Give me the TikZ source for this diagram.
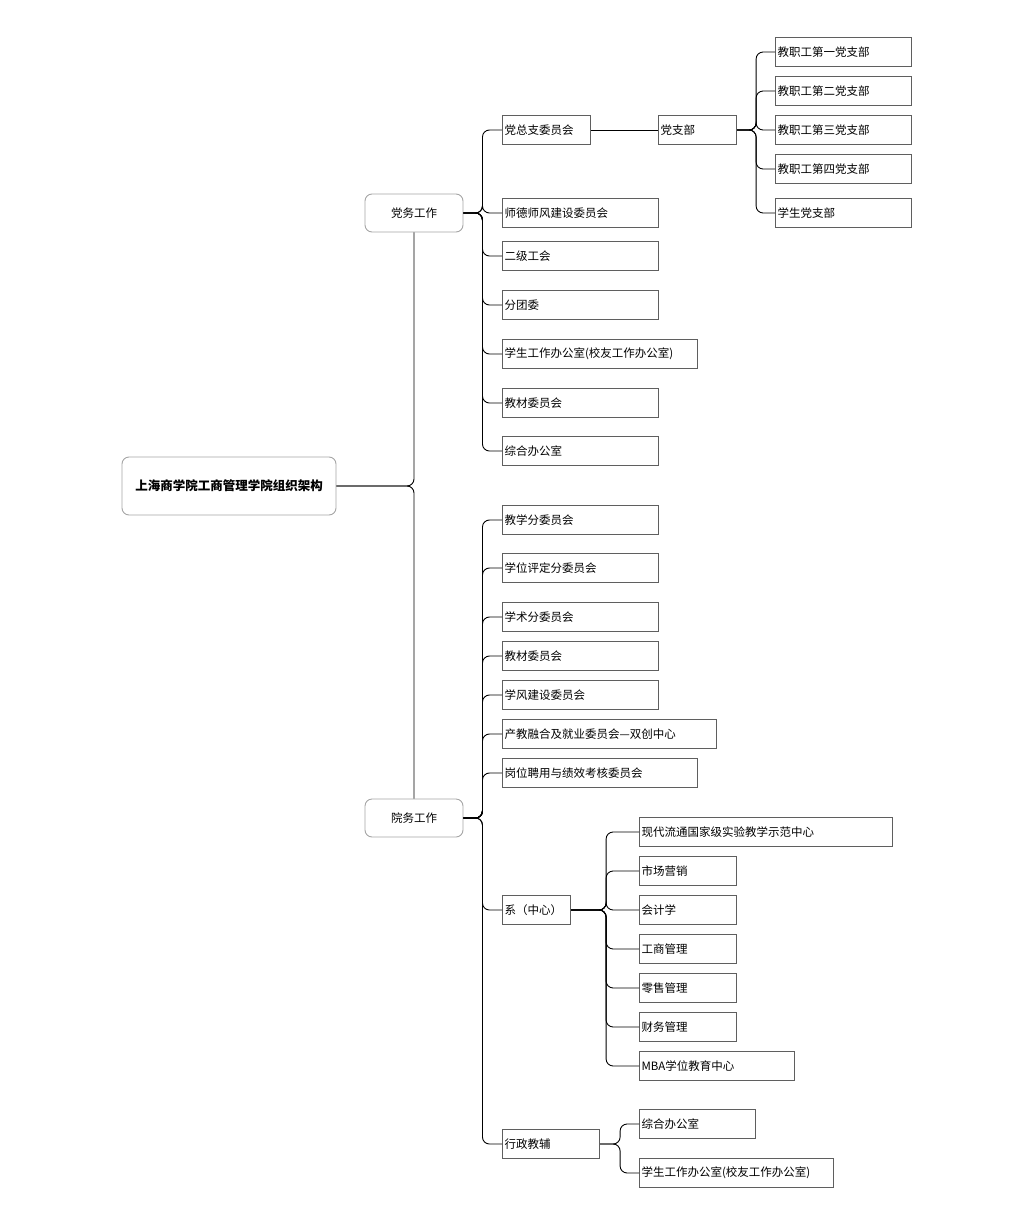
\documentclass[tikz,border=0pt]{standalone}
\usepackage{fontspec}
\setmainfont{Noto Sans CJK SC}
\usepackage{xcolor}
\usetikzlibrary{positioning}
\definecolor{boxline}{RGB}{95,95,95}
\definecolor{topicline}{RGB}{165,165,165}
\tikzset{
  topic/.style={draw=topicline, line width=0.9pt, rounded corners=7pt, align=center},
  item/.style={draw=boxline, line width=1.1pt, minimum height=29pt, inner xsep=2pt, anchor=west, align=left},
  link/.style={line width=0.9pt, rounded corners=7pt}
}
\begin{document}
\begin{tikzpicture}[x=1pt,y=-1pt,every node/.style={font=\fontsize{11.5}{13}\selectfont}]
\useasboundingbox (0,0) rectangle (1009,1212);
% top level
\node[topic, minimum width=214pt, minimum height=58pt, font=\fontsize{12.5}{14}\selectfont\bfseries] (root) at (229,486) {上海商学院工商管理学院组织架构};
\node[topic, minimum width=98pt, minimum height=38pt] (dangwu) at (414,213) {党务工作};
\node[topic, minimum width=98pt, minimum height=38pt] (yuanwu) at (414,818) {院务工作};
% party work
\node[item, text width=84pt] (dzz) at (502,130) {党总支委员会};
\node[item, text width=152pt] (sdsf) at (502,213) {师德师风建设委员会};
\node[item, text width=152pt] (ejgh) at (502,256) {二级工会};
\node[item, text width=152pt] (ftw) at (502,305) {分团委};
\node[item, text width=191pt] (xsgz) at (502,354) {学生工作办公室(校友工作办公室)};
\node[item, text width=152pt] (jcwy) at (502,403) {教材委员会};
\node[item, text width=152pt] (zhbg) at (502,451) {综合办公室};
\node[item, text width=74pt] (dzb) at (658,130) {党支部};
\node[item, text width=132pt] (zb1) at (775,52) {教职工第一党支部};
\node[item, text width=132pt] (zb2) at (775,91) {教职工第二党支部};
\node[item, text width=132pt] (zb3) at (775,130) {教职工第三党支部};
\node[item, text width=132pt] (zb4) at (775,169) {教职工第四党支部};
\node[item, text width=132pt] (xszb) at (775,213) {学生党支部};
% college affairs
\node[item, text width=152pt] (jxfw) at (502,520) {教学分委员会};
\node[item, text width=152pt] (xwpd) at (502,568) {学位评定分委员会};
\node[item, text width=152pt] (xsfw) at (502,617) {学术分委员会};
\node[item, text width=152pt] (jcwy2) at (502,656) {教材委员会};
\node[item, text width=152pt] (xfjs) at (502,695) {学风建设委员会};
\node[item, text width=210pt] (cjrh) at (502,734) {产教融合及就业委员会—双创中心};
\node[item, text width=191pt] (gwpy) at (502,773) {岗位聘用与绩效考核委员会};
\node[item, text width=64pt] (xi) at (502,910) {系（中心）};
\node[item, text width=93pt] (xzjf) at (502,1144) {行政教辅};
\node[item, text width=249pt] (xdlt) at (639,832) {现代流通国家级实验教学示范中心};
\node[item, text width=93pt] (scyx) at (639,871) {市场营销};
\node[item, text width=93pt] (kjx) at (639,910) {会计学};
\node[item, text width=93pt] (gsgl) at (639,949) {工商管理};
\node[item, text width=93pt] (lsgl) at (639,988) {零售管理};
\node[item, text width=93pt] (cwgl) at (639,1027) {财务管理};
\node[item, text width=151pt] (mba) at (639,1066) {MBA学位教育中心};
\node[item, text width=112pt] (zhbg2) at (639,1124) {综合办公室};
\node[item, text width=190pt] (xsgz2) at (639,1173) {学生工作办公室(校友工作办公室)};
% connectors
\draw[link] (root.east) -| (dangwu.south);
\draw[link] (root.east) -| (yuanwu.north);
\foreach \c in {dzz,sdsf,ejgh,ftw,xsgz,jcwy,zhbg}
  \draw[link] (dangwu.east) -- ++(19,0) |- (\c.west);
\draw[link] (dzz.east) -- (dzb.west);
\foreach \c in {zb1,zb2,zb3,zb4,xszb}
  \draw[link] (dzb.east) -- ++(19,0) |- (\c.west);
\foreach \c in {jxfw,xwpd,xsfw,jcwy2,xfjs,cjrh,gwpy,xi,xzjf}
  \draw[link] (yuanwu.east) -- ++(19,0) |- (\c.west);
\foreach \c in {xdlt,scyx,kjx,gsgl,lsgl,cwgl,mba}
  \draw[link] (xi.east) -- ++(35,0) |- (\c.west);
\foreach \c in {zhbg2,xsgz2}
  \draw[link] (xzjf.east) -- ++(20,0) |- (\c.west);
\end{tikzpicture}
\end{document}
